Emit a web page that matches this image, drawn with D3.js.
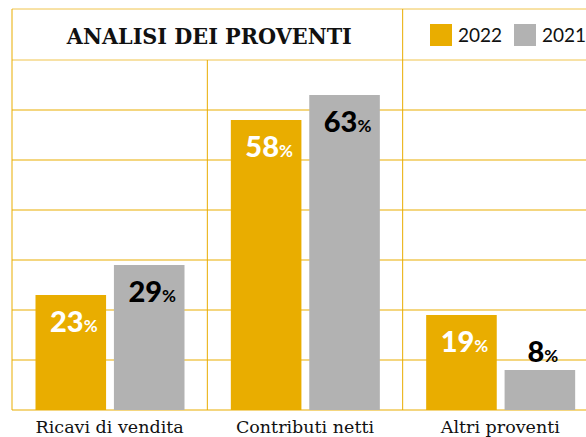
<!DOCTYPE html>
<html>
<head>
<meta charset="utf-8">
<script src="https://cdn.jsdelivr.net/npm/d3@7"></script>
<style>
  html, body { margin: 0; padding: 0; background: #fff; }
  svg { display: block; }
</style>
</head>
<body>
<svg id="chart" width="586" height="437"></svg>
<script>
const title = "ANALISI DEI PROVENTI";
const categories = ["Ricavi di vendita", "Contributi netti", "Altri proventi"];
const series = ["2022", "2021"];
const values2022 = [23, 58, 19];
const values2021 = [29, 63, 8];
const yTicks = [0, 10, 20, 30, 40, 50, 60, 70];

const colors = { "2022": "#E9AD00", "2021": "#B2B2B2" };
const labelColors = { "2022": "#FFFFFF", "2021": "#000000" };
const gridColor = "#E9AD00";

const svg = d3.select("#chart");

const x = d3.scaleBand().domain(categories).range([12, 598]);
const xInner = d3.scaleBand().domain(series).range([23.5, 172.5]).paddingInner(0.1);
const y = d3.scaleLinear().domain([0, 70]).range([410, 60]);

const data = categories.map((c, i) => ({
  category: c,
  values: [
    { series: "2022", value: values2022[i] },
    { series: "2021", value: values2021[i] }
  ]
}));

// Grid
const grid = svg.append("g");
grid.append("line")
  .attr("x1", 12).attr("x2", 598)
  .attr("y1", 9).attr("y2", 9)
  .attr("stroke", gridColor).attr("stroke-width", 1).attr("stroke-opacity", 0.7);
grid.selectAll("line.h").data(yTicks).join("line")
  .attr("class", "h")
  .attr("x1", 12).attr("x2", 598)
  .attr("y1", d => y(d)).attr("y2", d => y(d))
  .attr("stroke", gridColor).attr("stroke-width", 1)
  .attr("stroke-opacity", d => d === 70 ? 0.7 : 1);
const xBounds = categories.map(c => x(c)).concat([x.range()[1]]);
grid.selectAll("line.v").data(xBounds).join("line")
  .attr("class", "v")
  .attr("x1", d => d).attr("x2", d => d)
  .attr("y1", (d, i) => (i === 0 || i === 2 || i === 3) ? 9 : y(70))
  .attr("y2", y(0))
  .attr("stroke", gridColor).attr("stroke-width", 1);

// Title
svg.append("text")
  .attr("x", (x.range()[0] + x(categories[2])) / 2 + 2)
  .attr("y", 44)
  .attr("text-anchor", "middle")
  .attr("font-family", "'DejaVu Serif', serif")
  .attr("font-weight", "bold")
  .attr("font-size", 23)
  .attr("textLength", 285)
  .attr("lengthAdjust", "spacingAndGlyphs")
  .attr("fill", "#111")
  .text(title);

// Legend
const legendX = [430, 514];
const legend = svg.append("g");
series.forEach((s, i) => {
  legend.append("rect")
    .attr("x", legendX[i]).attr("y", 24)
    .attr("width", 22).attr("height", 22)
    .attr("fill", colors[s]);
  legend.append("text")
    .attr("x", legendX[i] + 28).attr("y", 42)
    .attr("font-family", "Lato, sans-serif")
    .attr("font-size", 19)
    .attr("fill", "#111")
    .text(s);
});

// Bars
const groups = svg.append("g").selectAll("g").data(data).join("g")
  .attr("transform", d => `translate(${x(d.category)},0)`);

groups.selectAll("rect").data(d => d.values).join("rect")
  .attr("x", d => xInner(d.series))
  .attr("y", d => y(d.value))
  .attr("width", xInner.bandwidth())
  .attr("height", d => y(0) - y(d.value))
  .attr("fill", d => colors[d.series]);

// Value labels
const labels = groups.selectAll("text.val").data(d => d.values).join("text")
  .attr("class", "val")
  .attr("x", d => xInner(d.series) + xInner.bandwidth() / 2 + 3)
  .attr("y", d => (y(0) - y(d.value)) > 50 ? y(d.value) + 37 : y(d.value) - 8)
  .attr("text-anchor", "middle")
  .attr("font-family", "Lato, sans-serif")
  .attr("font-weight", 900)
  .attr("fill", d => (y(0) - y(d.value)) > 50 ? labelColors[d.series] : "#000");
labels.append("tspan").attr("font-size", 29).text(d => d.value);
labels.append("tspan").attr("font-size", 17).attr("font-weight", 700).text("%");

// Category labels
svg.append("g").selectAll("text").data(categories).join("text")
  .attr("x", d => x(d) + x.bandwidth() / 2)
  .attr("y", 433)
  .attr("text-anchor", "middle")
  .attr("font-family", "'DejaVu Serif', serif")
  .attr("font-size", 17.5)
  .attr("fill", "#111")
  .text(d => d);
</script>
</body>
</html>
